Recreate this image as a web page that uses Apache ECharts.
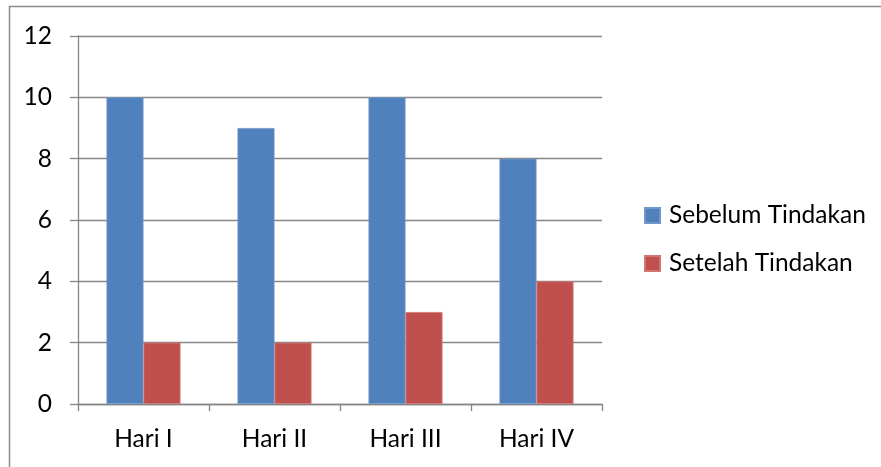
<!DOCTYPE html>
<html>
<head>
<meta charset="utf-8">
<script src="https://cdn.jsdelivr.net/npm/echarts@6/dist/echarts.min.js"></script>
<style>
  html, body { margin: 0; padding: 0; background: #fff; }
  #chart { width: 881px; height: 467px; }
</style>
</head>
<body>
<div id="chart"></div>
<script>
const categories = ['Hari I', 'Hari II', 'Hari III', 'Hari IV'];
const seriesNames = ['Sebelum Tindakan', 'Setelah Tindakan'];
const sebelum = [10, 9, 10, 8];
const setelah = [2, 2, 3, 4];
const yTicks = [0, 2, 4, 6, 8, 10, 12];

const FONT = 'Lato, "Open Sans", sans-serif';
const FONT_SIZE = 24.5;
const GRID_COLOR = '#868686';

const chart = echarts.init(document.getElementById('chart'), null, { renderer: 'canvas' });

chart.setOption({
  animation: false,
  backgroundColor: '#ffffff',
  textStyle: { fontFamily: FONT, color: '#000' },
  grid: { left: 78, top: 36, width: 524, height: 368, containLabel: false },
  legend: {
    orient: 'vertical',
    left: 644,
    top: 203,
    padding: 0,
    itemWidth: 15,
    itemHeight: 15,
    itemGap: 23,
    icon: 'rect',
    textStyle: { fontFamily: FONT, fontSize: FONT_SIZE, color: '#000', padding: [0, 0, 0, 4] },
    data: seriesNames
  },
  xAxis: {
    type: 'category',
    data: categories,
    axisLine: { show: true, lineStyle: { color: GRID_COLOR, width: 1.3 } },
    axisTick: { show: true, length: 7, alignWithLabel: false, lineStyle: { color: GRID_COLOR, width: 1.3 } },
    axisLabel: { fontFamily: FONT, fontSize: FONT_SIZE, color: '#000', margin: 23 }
  },
  yAxis: {
    type: 'value',
    min: yTicks[0],
    max: yTicks[yTicks.length - 1],
    interval: 2,
    axisLine: { show: true, lineStyle: { color: GRID_COLOR, width: 1.3 } },
    axisTick: { show: true, length: 8, lineStyle: { color: GRID_COLOR, width: 1.3 } },
    splitLine: { show: true, lineStyle: { color: GRID_COLOR, width: 1.3 } },
    axisLabel: { fontFamily: FONT, fontSize: FONT_SIZE, color: '#000', margin: 26 }
  },
  series: [
    {
      name: seriesNames[0],
      type: 'bar',
      data: sebelum,
      barWidth: 37,
      barGap: '0%',
      itemStyle: { color: '#4F81BD', borderColor: '#6f97c8', borderWidth: 0.8 }
    },
    {
      name: seriesNames[1],
      type: 'bar',
      data: setelah,
      barWidth: 37,
      barGap: '0%',
      itemStyle: { color: '#C0504D', borderColor: '#d17572', borderWidth: 0.8 }
    }
  ],
  graphic: [
    {
      type: 'polyline',
      silent: true,
      shape: { points: [[9.5, 470], [9.5, 6.5], [890, 6.5]] },
      style: { stroke: '#8c8c8c', lineWidth: 1.5, fill: null }
    }
  ]
});
</script>
</body>
</html>
